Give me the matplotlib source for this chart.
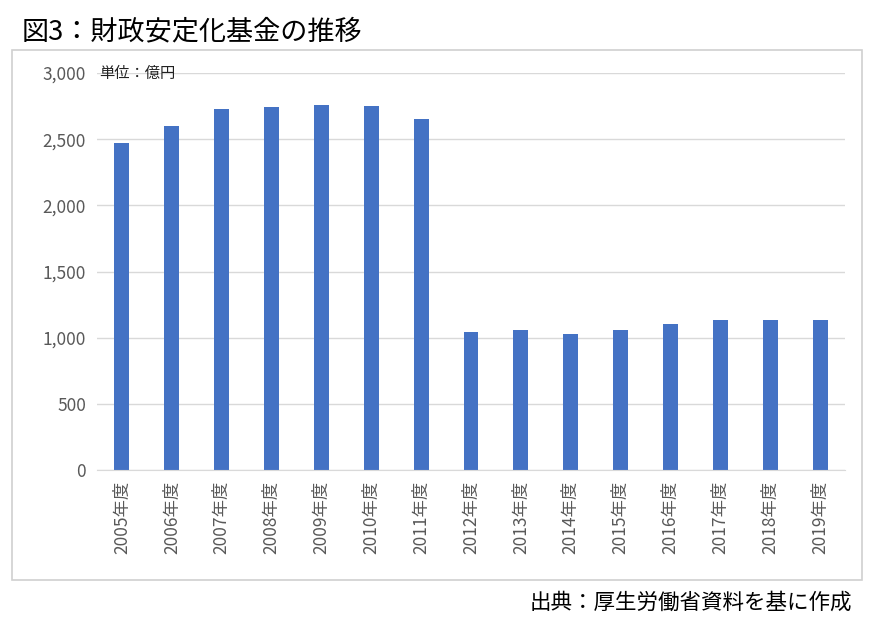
import matplotlib.pyplot as plt
from matplotlib.patches import Rectangle

plt.rcParams["font.family"] = "Noto Sans CJK JP"

# --- DATA ---
YEARS = [f"{y}年度" for y in range(2005, 2020)]
VALUES = [2470, 2600, 2725, 2740, 2755, 2748, 2650,
          1045, 1060, 1030, 1060, 1100, 1130, 1130, 1135]
Y_TICKS = [0, 500, 1000, 1500, 2000, 2500, 3000]

W, H = 887, 637
fig = plt.figure(figsize=(W / 100, H / 100), dpi=100)

# outer chart box
fig.patches.append(Rectangle((12 / W, 1 - 580 / H), (862 - 12) / W, (580 - 50) / H,
                             transform=fig.transFigure, fill=False,
                             edgecolor="#d0d0d0", linewidth=1.2))

ax = fig.add_axes([97 / W, 1 - 470 / H, (845 - 97) / W, (470 - 73) / H])
ax.bar(range(len(VALUES)), VALUES, width=0.3, color="#4472C4")
ax.set_ylim(0, 3000)
ax.set_xlim(-0.5, len(VALUES) - 0.5)
ax.set_yticks(Y_TICKS)
ax.set_yticklabels([f"{v:,}" for v in Y_TICKS], fontsize=12.5, color="#595959")
ax.set_xticks(range(len(YEARS)))
ax.set_xticklabels(YEARS, rotation=90, fontsize=12.5, color="#595959")
ax.tick_params(length=0, pad=8)
ax.grid(axis="y", color="#d9d9d9", linewidth=1)
ax.set_axisbelow(True)
for s in ["top", "right", "left"]:
    ax.spines[s].set_visible(False)
ax.spines["bottom"].set_color("#d9d9d9")

ax.text(-0.45, 3000, "単位：億円", fontsize=11, va="center", ha="left", color="#222222")

fig.text(22 / W, 1 - 32 / H, "図3：財政安定化基金の推移", fontsize=19.5, ha="left", va="center")
fig.text(852 / W, 1 - 603 / H, "出典：厚生労働省資料を基に作成", fontsize=15.5, ha="right", va="center")

fig.savefig("out.png", dpi=100)
